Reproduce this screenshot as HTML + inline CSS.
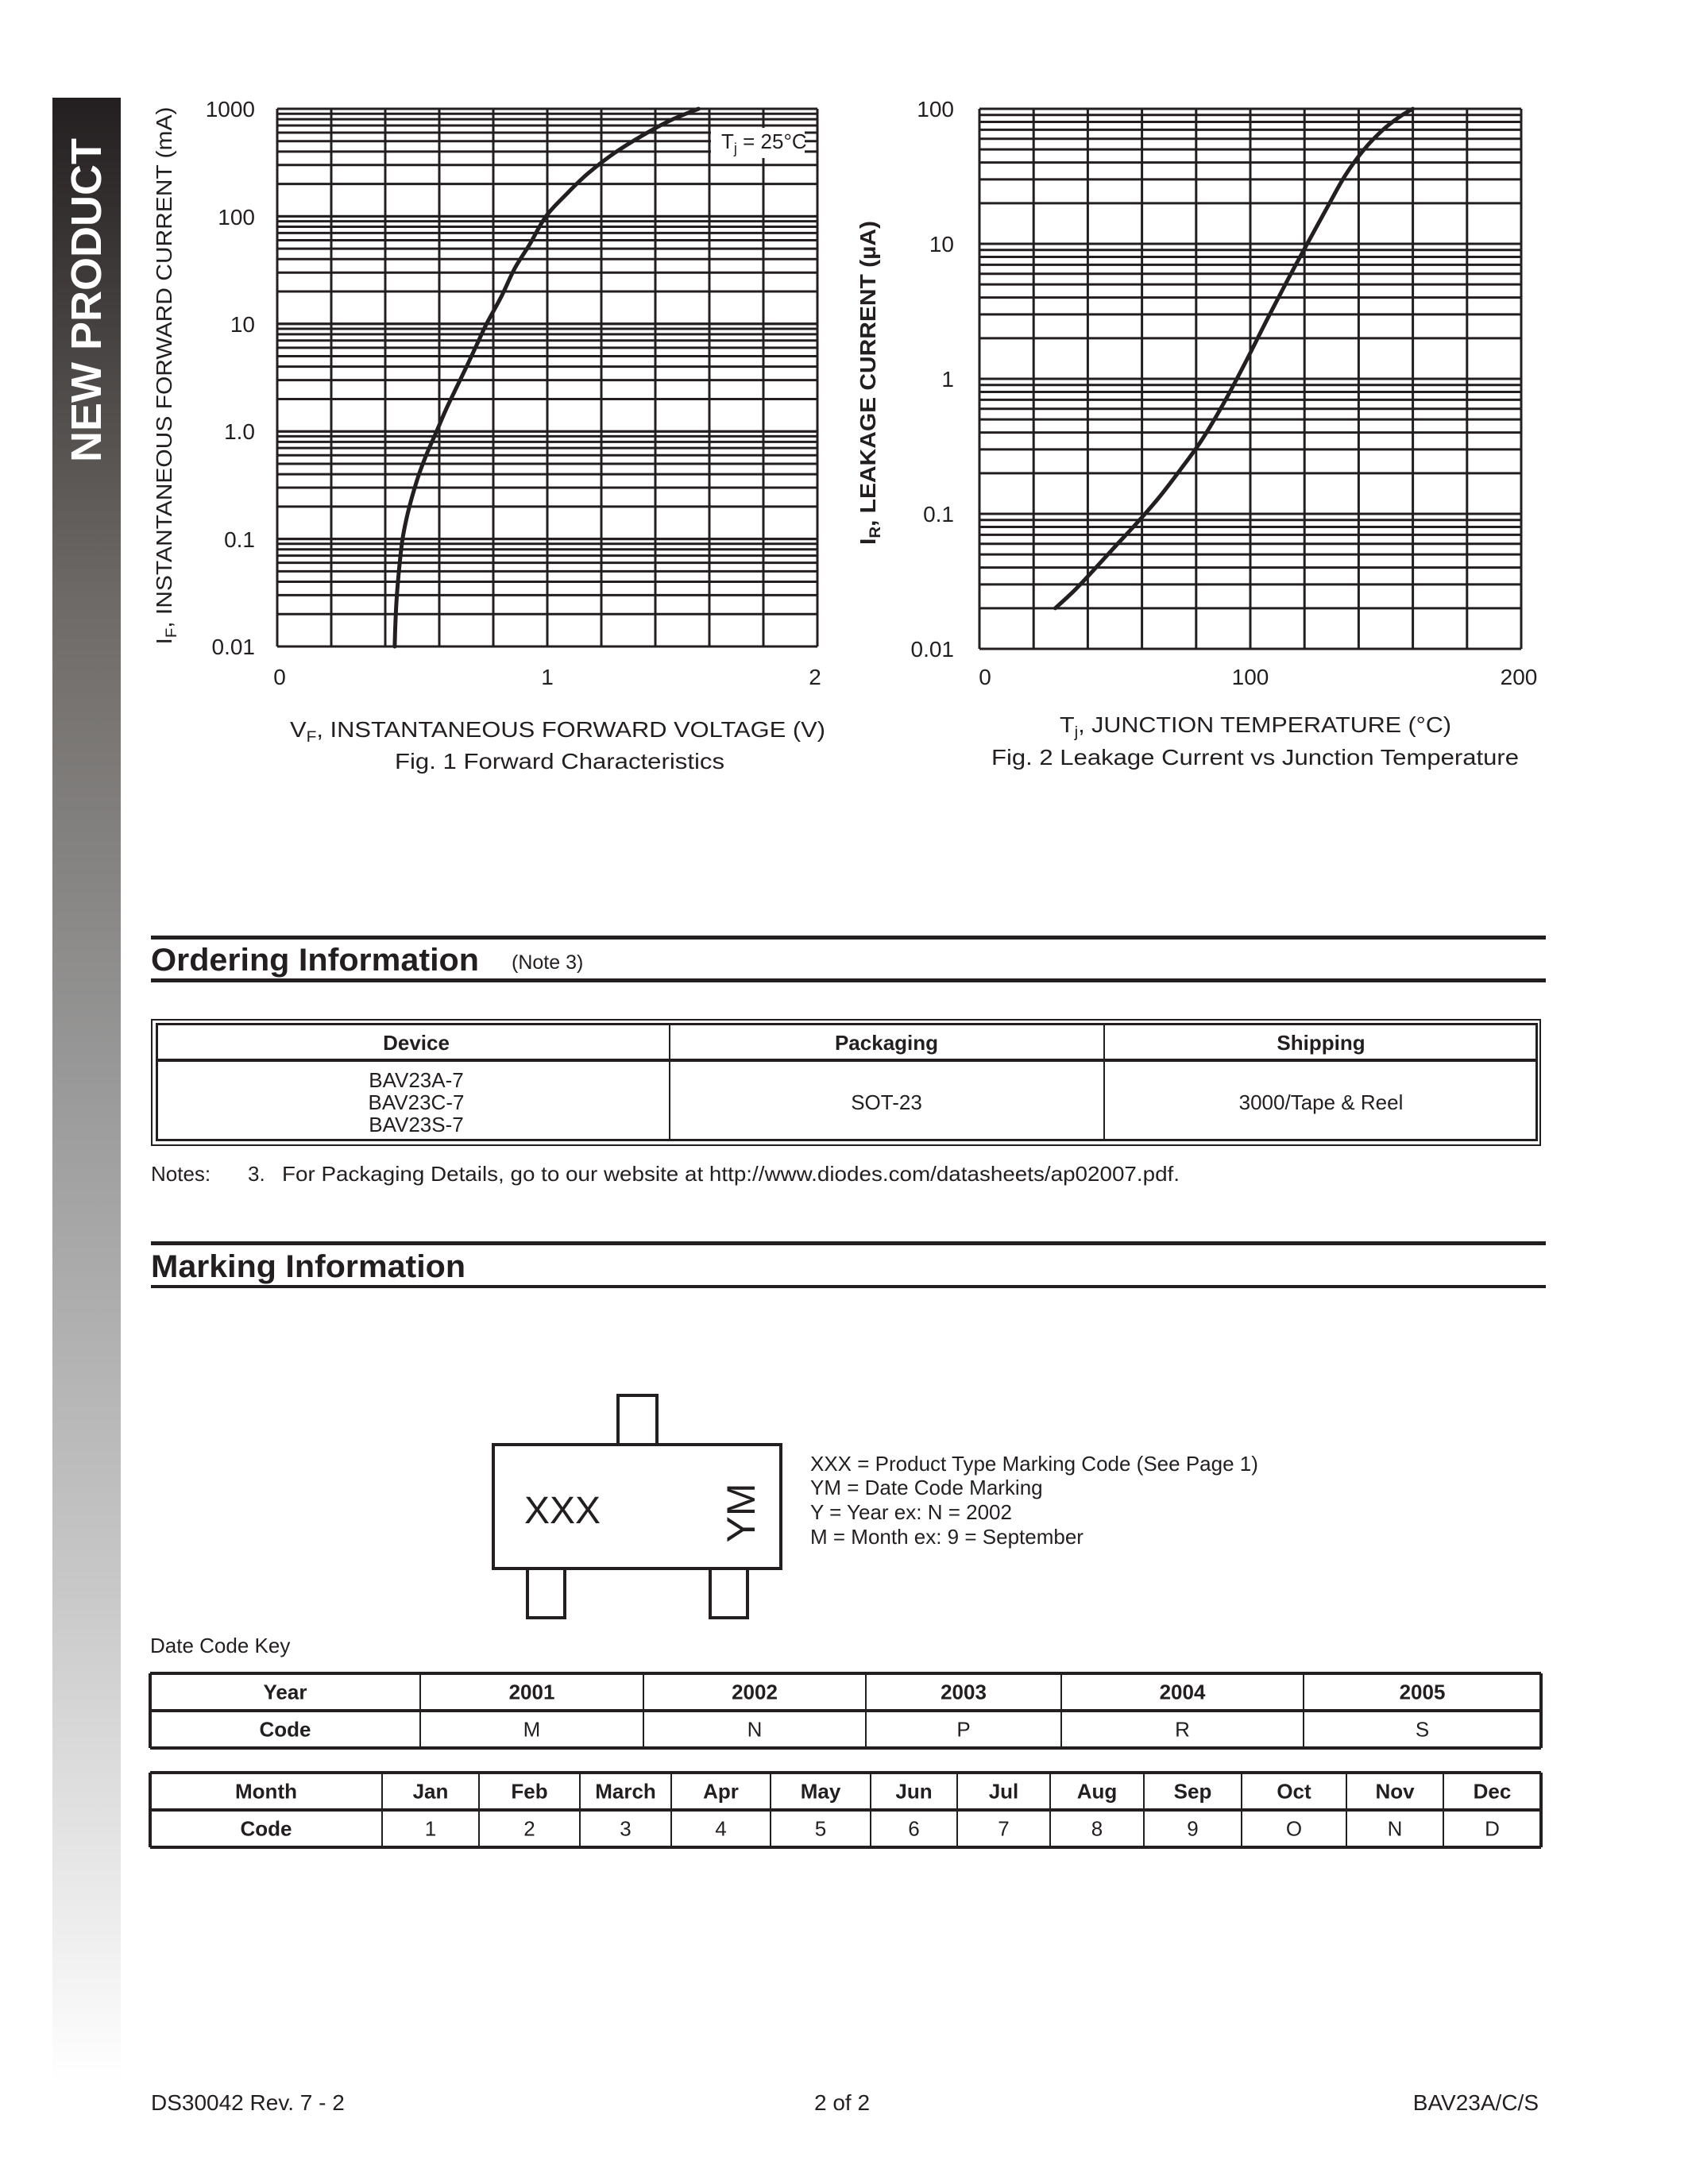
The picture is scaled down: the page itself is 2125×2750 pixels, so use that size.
<!DOCTYPE html>
<html><head><meta charset="utf-8"><style>
html,body{margin:0;padding:0;background:#fff;}
svg{display:block;}
text{font-family:"Liberation Sans",Arial,sans-serif;fill:#231f20;}
.b{font-weight:bold;}
</style></head><body>
<svg id="s" xmlns="http://www.w3.org/2000/svg" width="2125" height="2750" viewBox="0 0 2125 2750">
<defs>
<linearGradient id="bar" x1="0" y1="0" x2="0" y2="1">
<stop offset="0" stop-color="#231f20"/>
<stop offset="0.25" stop-color="#6d6966"/>
<stop offset="0.5" stop-color="#9a9a9a"/>
<stop offset="0.75" stop-color="#c8c8c8"/>
<stop offset="1" stop-color="#ffffff"/>
</linearGradient>
</defs>
<rect x="66" y="123" width="86" height="2500" fill="url(#bar)"/>
<text class="b" x="0" y="0" font-size="54" fill="#fff" style="fill:#fff" transform="translate(127,378) rotate(-90)" text-anchor="middle" textLength="408" lengthAdjust="spacingAndGlyphs">NEW PRODUCT</text>

<g id="grid1" stroke="#231f20" stroke-width="3" fill="none"></g>
<g id="grid2" stroke="#231f20" stroke-width="3" fill="none"></g>
<path id="c1" stroke="#231f20" stroke-width="5" fill="none" stroke-linecap="round"/>
<path id="c2" stroke="#231f20" stroke-width="5" fill="none" stroke-linecap="round"/>

<g font-size="28" text-anchor="end">
<text x="321" y="147">1000</text>
<text x="321" y="283">100</text>
<text x="321" y="418">10</text>
<text x="321" y="553">1.0</text>
<text x="321" y="689">0.1</text>
<text x="321" y="824">0.01</text>
</g>
<g font-size="28" text-anchor="middle">
<text x="352" y="862">0</text>
<text x="689" y="862">1</text>
<text x="1026" y="862">2</text>
</g>
<rect x="895" y="161" width="118" height="38" fill="#fff"/>
<text x="908" y="187" font-size="26">T<tspan font-size="18" dy="6">j</tspan><tspan dy="-6"> = 25°C</tspan></text>
<text x="0" y="0" font-size="28" transform="translate(216,473) rotate(-90)" text-anchor="middle" textLength="677" lengthAdjust="spacingAndGlyphs">I<tspan font-size="19" dy="6">F</tspan><tspan dy="-6">, INSTANTANEOUS FORWARD CURRENT (mA)</tspan></text>
<text x="365" y="928" font-size="28" textLength="674" lengthAdjust="spacingAndGlyphs">V<tspan font-size="19" dy="6">F</tspan><tspan dy="-6">, INSTANTANEOUS FORWARD VOLTAGE (V)</tspan></text>
<text x="497" y="968" font-size="28" textLength="415" lengthAdjust="spacingAndGlyphs">Fig. 1  Forward Characteristics</text>

<g font-size="28" text-anchor="end">
<text x="1201" y="147">100</text>
<text x="1201" y="317">10</text>
<text x="1201" y="487">1</text>
<text x="1201" y="657">0.1</text>
<text x="1201" y="827">0.01</text>
</g>
<g font-size="28" text-anchor="middle">
<text x="1240" y="862">0</text>
<text x="1574" y="862">100</text>
<text x="1912" y="862">200</text>
</g>
<text class="b" x="0" y="0" font-size="28" transform="translate(1102,482) rotate(-90)" text-anchor="middle" textLength="408" lengthAdjust="spacingAndGlyphs">I<tspan font-size="19" dy="6">R</tspan><tspan dy="-6">, LEAKAGE CURRENT (µA)</tspan></text>
<text x="1334" y="922" font-size="28" textLength="493" lengthAdjust="spacingAndGlyphs">T<tspan font-size="19" dy="6">j</tspan><tspan dy="-6">, JUNCTION TEMPERATURE (°C)</tspan></text>
<text x="1248" y="963" font-size="28" textLength="664" lengthAdjust="spacingAndGlyphs">Fig. 2  Leakage Current vs Junction Temperature</text>

<rect x="190" y="1178" width="1756" height="5" fill="#231f20"/>
<text class="b" x="190" y="1222" font-size="40" textLength="413" lengthAdjust="spacingAndGlyphs">Ordering Information</text>
<text x="644" y="1220" font-size="25">(Note 3)</text>
<rect x="190" y="1232" width="1756" height="5" fill="#231f20"/>
<g fill="none" stroke="#231f20">
<rect x="191" y="1284" width="1748" height="158" stroke-width="2"/>
<rect x="197.5" y="1289.5" width="1737" height="146" stroke-width="3"/>
<line x1="196" y1="1335" x2="1936" y2="1335" stroke-width="4"/>
<line x1="843" y1="1289" x2="843" y2="1437" stroke-width="2"/>
<line x1="1390" y1="1289" x2="1390" y2="1437" stroke-width="2"/>
</g>
<g font-size="26" text-anchor="middle">
<text class="b" x="524" y="1322">Device</text>
<text class="b" x="1116" y="1322">Packaging</text>
<text class="b" x="1663" y="1322">Shipping</text>
<text x="524" y="1369">BAV23A-7</text>
<text x="524" y="1397">BAV23C-7</text>
<text x="524" y="1425">BAV23S-7</text>
<text x="1116" y="1397">SOT-23</text>
<text x="1663" y="1397">3000/Tape &amp; Reel</text>
</g>
<text x="190" y="1487" font-size="26">Notes:</text>
<text x="312" y="1487" font-size="26">3.</text>
<text x="355" y="1487" font-size="26" textLength="1130" lengthAdjust="spacingAndGlyphs">For Packaging Details, go to our website at http://www.diodes.com/datasheets/ap02007.pdf.</text>

<rect x="190" y="1563" width="1756" height="5" fill="#231f20"/>
<text class="b" x="190" y="1608" font-size="40" textLength="396" lengthAdjust="spacingAndGlyphs">Marking Information</text>
<rect x="190" y="1618" width="1756" height="4" fill="#231f20"/>

<g fill="none" stroke="#231f20" stroke-width="4">
<rect x="778" y="1757" width="49" height="62"/>
<rect x="664" y="1975" width="47" height="62"/>
<rect x="894" y="1975" width="47" height="62"/>
<rect x="621" y="1819" width="362" height="156" fill="#fff"/>
</g>
<text x="660" y="1918" font-size="48">XXX</text>
<text x="0" y="0" font-size="50" transform="translate(950,1905) rotate(-90)" text-anchor="middle">YM</text>
<g font-size="26">
<text x="1020" y="1852">XXX = Product Type Marking Code (See Page 1)</text>
<text x="1020" y="1882">YM = Date Code Marking</text>
<text x="1020" y="1913">Y = Year ex: N = 2002</text>
<text x="1020" y="1944">M = Month ex: 9 = September</text>
</g>
<text x="189" y="2081" font-size="26">Date Code Key</text>

<g id="tables" fill="none" stroke="#231f20" stroke-width="3"></g>
<g id="ttext" font-size="26" text-anchor="middle"></g>

<g font-size="28">
<text x="190" y="2657">DS30042 Rev. 7 - 2</text>
<text x="1060" y="2657" text-anchor="middle">2 of 2</text>
<text x="1937" y="2657" text-anchor="end">BAV23A/C/S</text>
</g>
</svg>
<script>
(function(){
var NS="http://www.w3.org/2000/svg";
function L(g,x1,y1,x2,y2,w){var l=document.createElementNS(NS,"line");l.setAttribute("x1",x1);l.setAttribute("y1",y1);l.setAttribute("x2",x2);l.setAttribute("y2",y2);if(w)l.setAttribute("stroke-width",w);g.appendChild(l);}
function grid(id,x0,x1,yt,yb,dec){
 var g=document.getElementById(id);var d=(yb-yt)/dec;
 for(var i=0;i<=10;i++){var x=x0+(x1-x0)*i/10;L(g,x,yt,x,yb);}
 for(var k=0;k<dec;k++){for(var m=1;m<=10;m++){var y=yb-k*d-Math.log10(m)*d;L(g,x0,y,x1,y);}}
}
grid("grid1",349,1029,137,814,5);
grid("grid2",1233,1915,137,817,4);
function smooth(id,pts,fx,fy){var P=pts.map(function(p){return[fx(p[0]),fy(p[1])];});var s="M"+P[0][0]+","+P[0][1];
 for(var i=0;i<P.length-1;i++){var p0=P[i-1]||P[i],p1=P[i],p2=P[i+1],p3=P[i+2]||P[i+1];
 s+="C"+(p1[0]+(p2[0]-p0[0])/6)+","+(p1[1]+(p2[1]-p0[1])/6)+" "+(p2[0]-(p3[0]-p1[0])/6)+","+(p2[1]-(p3[1]-p1[1])/6)+" "+p2[0]+","+p2[1];}
 document.getElementById(id).setAttribute("d",s);}
var d1=(814-137)/5;
// forward curve: V = a + b*log10(I) + R*I
var p1=[];
for(var e=-2;e<=3.0001;e+=0.1){var I=Math.pow(10,e);
 var V=0.435+0.0;
 // piecewise fit to readings
 p1.push(I);}
var pts1=[[0.435,0.01],[0.437,0.015],[0.441,0.025],[0.447,0.04],[0.455,0.065],[0.464,0.1],[0.48,0.16],[0.5,0.25],[0.525,0.4],[0.555,0.63],[0.59,1],[0.625,1.6],[0.665,2.6],[0.705,4.2],[0.746,7],[0.775,10],[0.83,18],[0.88,33],[0.935,55],[0.995,100],[1.07,160],[1.15,250],[1.25,390],[1.36,580],[1.46,790],[1.56,1000]];
smooth("c1",pts1,function(v){return 349+v/2*680;},function(i){return 814-(Math.log10(i)+2)*d1;});
var d2=(817-137)/4;
smooth("c2",[[28,0.02],[35,0.027],[42,0.038],[50,0.057],[58,0.085],[66,0.13],[74,0.21],[82,0.35],[90,0.65],[98,1.3],[106,2.7],[114,5.5],[121,10],[128,18],[135,32],[142,50],[149,70],[155,87],[160,100]],
 function(t){return 1233+t/200*682;},function(i){return 817-(Math.log10(i)+2)*d2;});
var g=document.getElementById("tables"),tt=document.getElementById("ttext");
function T(x,y,s,b){var t=document.createElementNS(NS,"text");t.setAttribute("x",x);t.setAttribute("y",y);if(b)t.setAttribute("class","b");t.textContent=s;tt.appendChild(t);}
function table(cols,yt,ym,yb,r1,r2){
 L(g,189,yt,1940,yt,4);L(g,189,ym,1940,ym,4);L(g,189,yb,1940,yb,4);
 cols.forEach(function(x,i){L(g,x,yt,x,yb,(i==0||i==cols.length-1)?4:2);});
 for(var i=0;i<cols.length-1;i++){var cx=(cols[i]+cols[i+1])/2;T(cx,(yt+ym)/2+9,r1[i],true);T(cx,(ym+yb)/2+9,r2[i],i==0);}
}
var yc=[189,529,810,1090,1336,1641,1940];
table(yc,2107,2154,2201,["Year","2001","2002","2003","2004","2005"],["Code","M","N","P","R","S"]);
var mc=[189,481,603,730,845,970,1096,1205,1322,1440,1563,1695,1817,1940];
table(mc,2232,2279,2326,["Month","Jan","Feb","March","Apr","May","Jun","Jul","Aug","Sep","Oct","Nov","Dec"],["Code","1","2","3","4","5","6","7","8","9","O","N","D"]);
})();
</script>
</body></html>
